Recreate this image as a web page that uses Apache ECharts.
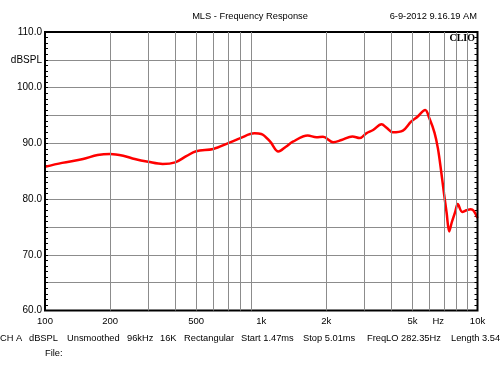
<!DOCTYPE html>
<html>
<head>
<meta charset="utf-8">
<script src="https://cdn.jsdelivr.net/npm/echarts@6/dist/echarts.min.js"></script>
<style>html,body{margin:0;padding:0;background:#fff}#c{width:500px;height:375px}</style>
</head>
<body>
<div id="c"></div>
<script>
// Frequency (Hz) and SPL (dB)
var freqs = [100,120,150,175,200,230,260,300,350,400,450,500,600,700,800,930,1000,1100,1200,1300,1400,1640,1800,1930,2150,2350,2640,2850,3060,3290,3600,3800,4050,4520,4930,5280,5730,5990,6330,6560,6790,7000,7200,7400,7600,7900,8100,8500,8900,9300,9600,10000];
var spl = [85.8,86.5,87.2,87.9,88.1,87.8,87.2,86.7,86.3,86.6,87.7,88.6,89.0,90.0,90.95,91.8,91.7,90.3,88.55,89.4,90.3,91.4,91.1,91.2,90.2,90.6,91.25,90.95,91.8,92.4,93.45,92.8,92.0,92.3,93.9,94.8,96.0,94.5,91.9,89.1,85.0,81.0,77.5,74.2,75.8,77.8,79.1,77.7,78.0,78.2,77.9,76.6];

var xTickValues = [100,200,500,1000,2000,5000,6580,10000];
var xTickLabels = ['100','200','500','1k','2k','5k','Hz','10k'];
var xGridValues = [200,300,400,500,600,700,800,900,2000,3000,4000,5000,6000,7000,8000,9000];
var yLabelValues = [60,70,80,90,100,110];
var yUnitValue = 105;
var yUnitLabel = 'dBSPL';

var infoItems = ['CH A','dBSPL','Unsmoothed','96kHz','16K','Rectangular','Start 1.47ms','Stop 5.01ms','FreqLO 282.35Hz','Length 3.54'];
var infoX = [0,29,67,127,160,184,241,303,367,451];

var FONT = 'Liberation Sans, Arial, sans-serif';
var chart = echarts.init(document.getElementById('c'), null, {renderer:'canvas'});

var data = freqs.map(function(f,i){return [f, spl[i]];});

var graphics = [
  {type:'text', x:250, y:16, style:{text:'MLS - Frequency Response', font:'9.3px '+FONT, fill:'#000', align:'center', verticalAlign:'middle'}},
  {type:'text', x:477, y:16, style:{text:'6-9-2012 9.16.19 AM', font:'9.3px '+FONT, fill:'#000', align:'right', verticalAlign:'middle'}},
  {type:'text', x:475, y:38, z:10, style:{text:'CLIO', font:'bold 10px Liberation Serif, serif', fill:'#000', align:'right', verticalAlign:'middle'}},
  {type:'text', x:45, y:353, style:{text:'File:', font:'9.3px '+FONT, fill:'#000', align:'left', verticalAlign:'middle'}}
];
infoItems.forEach(function(t,i){
  graphics.push({type:'text', x:infoX[i], y:338, style:{text:t, font:'9.3px '+FONT, fill:'#000', align:'left', verticalAlign:'middle'}});
});

chart.setOption({
  animation:false,
  backgroundColor:'#fff',
  grid:{left:45, right:22.5, top:32, bottom:64.5, show:true, borderColor:'#000', borderWidth:2, backgroundColor:'transparent', z:5},
  xAxis:{
    type:'log', logBase:10, min:100, max:10000,
    axisLine:{show:false}, axisTick:{show:false}, splitLine:{show:false},
    axisLabel:{customValues:xTickValues, margin:6, fontSize:9.5, fontFamily:FONT, color:'#000',
      formatter:function(v){var i=xTickValues.indexOf(Math.round(v)); if(i<0){for(var k=0;k<xTickValues.length;k++){if(Math.abs(xTickValues[k]-v)<1) i=k;}} return i>=0?xTickLabels[i]:'';}}
  },
  yAxis:[{
    type:'value', min:60, max:110, interval:5, position:'left',
    axisLine:{show:false},
    axisTick:{show:true, inside:true, length:3, lineStyle:{color:'#000'}},
    minorTick:{show:true, splitNumber:5, length:3, lineStyle:{color:'#000'}},
    splitLine:{show:true, lineStyle:{color:'#8c8c8c', width:1}},
    axisLabel:{margin:3, fontSize:10, fontFamily:FONT, color:'#000',
      formatter:function(v){ if(yLabelValues.indexOf(v)>=0) return v.toFixed(1); if(v===yUnitValue) return yUnitLabel; return ''; }}
  },{
    type:'value', min:60, max:110, interval:5, position:'right',
    axisLine:{show:false},
    axisTick:{show:true, inside:true, length:3, lineStyle:{color:'#000'}},
    minorTick:{show:true, splitNumber:5, length:3, lineStyle:{color:'#000'}},
    splitLine:{show:false}, axisLabel:{show:false}
  }],
  graphic:graphics,
  series:[{
    type:'line', z:1, data:[], silent:true,
    markLine:{silent:true, symbol:['none','none'], label:{show:false},
      lineStyle:{color:'#8c8c8c', width:1, type:'solid'},
      data:xGridValues.map(function(v){return {xAxis:v};})}
  },{
    type:'line', z:3, data:data, showSymbol:false, smooth:0.35,
    lineStyle:{color:'#ff0000', width:2.5}, itemStyle:{color:'#ff0000'}
  }]
});
</script>
</body>
</html>
